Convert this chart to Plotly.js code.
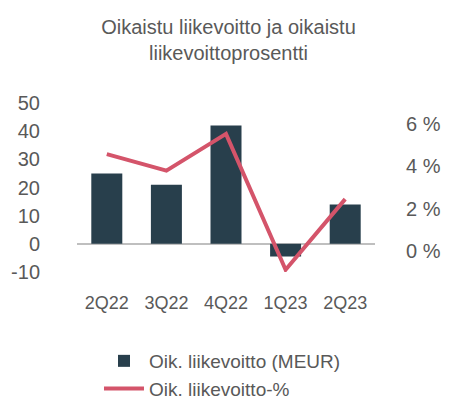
<!DOCTYPE html>
<html><head><meta charset="utf-8">
<script src="https://cdn.plot.ly/plotly-3.0.1.min.js"></script>
<style>html,body{margin:0;padding:0;background:#fff}#c{width:457px;height:399px}</style>
</head><body><div id="c"></div>
<script>
const categories = ["2Q22", "3Q22", "4Q22", "1Q23", "2Q23"];
const profitMEUR = [25, 21, 42, -4.5, 14];
const profitPct = [4.58, 3.8, 5.54, -0.89, 2.45];
const leftTicks = [-10, 0, 10, 20, 30, 40, 50];
const leftTickText = ["-10", "0", "10", "20", "30", "40", "50"];
const rightTicks = [0, 2, 4, 6];
const rightTickText = ["0 %", "2 %", "4 %", "6 %"];

const FONT = "Liberation Sans, Arial, sans-serif";
const GREY = "#595959";

const traces = [
  {type: "bar", x: categories, y: profitMEUR, name: "Oik. liikevoitto (MEUR)",
   marker: {color: "#283f4c"}, width: 0.52, yaxis: "y"},
  {type: "scatter", mode: "lines", x: categories, y: profitPct, name: "Oik. liikevoitto-%",
   line: {color: "#d4546a", width: 4}, yaxis: "y2"}
];

const layout = {
  width: 457, height: 399,
  margin: {l: 77, r: 82, t: 103, b: 127},
  paper_bgcolor: "#fff", plot_bgcolor: "#fff",
  font: {family: FONT, color: GREY, size: 18},
  title: {text: "Oikaistu liikevoitto ja oikaistu<br>liikevoittoprosentti",
          x: 0.5, xref: "container", y: 1 - 34/399, yref: "container", yanchor: "top",
          font: {family: FONT, color: GREY, size: 20}},
  showlegend: true,
  legend: {orientation: "v", xref: "paper", yref: "container",
           x: 0.0738, xanchor: "left", y: 1 - 342/399, yanchor: "top",
           itemwidth: 40, font: {family: FONT, color: GREY, size: 19}, tracegroupgap: 0},
  bargap: 0.48,
  xaxis: {type: "category", showgrid: false, showline: false, zeroline: false,
          ticks: "outside", ticklen: 14, tickcolor: "rgba(0,0,0,0)", automargin: false,
          tickfont: {family: FONT, color: GREY, size: 18}},
  yaxis: {range: [-10, 50], tickvals: leftTicks, ticktext: leftTickText, showgrid: false, showline: false,
          zeroline: true, zerolinecolor: "#bfbfbf", zerolinewidth: 2, automargin: false,
          ticks: "outside", ticklen: 32, tickcolor: "rgba(0,0,0,0)",
          tickfont: {family: FONT, color: GREY, size: 20}},
  yaxis2: {range: [-1, 7], tickvals: rightTicks, ticktext: rightTickText, overlaying: "y", side: "right",
           showgrid: false, showline: false, zeroline: false, automargin: false,
           ticks: "outside", ticklen: 26, tickcolor: "rgba(0,0,0,0)",
           tickfont: {family: FONT, color: GREY, size: 20}}
};

Plotly.newPlot("c", traces, layout, {displayModeBar: false, staticPlot: true});
</script></body></html>
